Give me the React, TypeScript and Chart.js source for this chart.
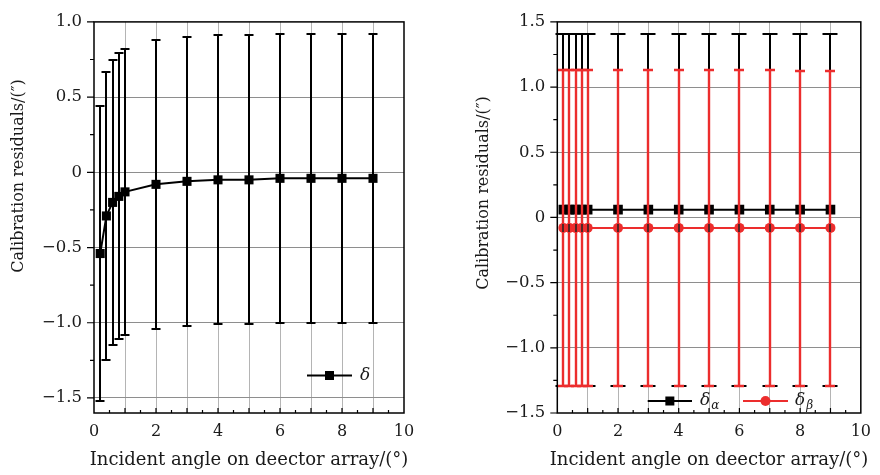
import React, { useEffect, useRef } from 'react';
import { Chart, registerables } from 'chart.js';

Chart.register(...registerables);

// ---------- data ----------
const angles = [0.2, 0.4, 0.6, 0.8, 1, 2, 3, 4, 5, 6, 7, 8, 9];

const delta = [-0.54, -0.29, -0.2, -0.16, -0.13, -0.08, -0.06, -0.05, -0.05, -0.04, -0.04, -0.04, -0.04];
const deltaUpper = [0.44, 0.67, 0.75, 0.79, 0.82, 0.88, 0.9, 0.91, 0.91, 0.92, 0.92, 0.92, 0.92];
const deltaLower = [-1.52, -1.25, -1.15, -1.11, -1.08, -1.04, -1.02, -1.01, -1.01, -1.0, -1.0, -1.0, -1.0];

const deltaAlpha = [0.06, 0.06, 0.06, 0.06, 0.06, 0.06, 0.06, 0.06, 0.06, 0.06, 0.06, 0.06, 0.06];
const alphaUpper = [1.41, 1.41, 1.41, 1.41, 1.41, 1.41, 1.41, 1.41, 1.41, 1.41, 1.41, 1.41, 1.41];
const alphaLower = [-1.29, -1.29, -1.29, -1.29, -1.29, -1.29, -1.29, -1.29, -1.29, -1.29, -1.29, -1.29, -1.29];

const deltaBeta = [-0.08, -0.08, -0.08, -0.08, -0.08, -0.08, -0.08, -0.08, -0.08, -0.08, -0.08, -0.08, -0.08];
const betaUpper = [1.13, 1.13, 1.13, 1.13, 1.13, 1.13, 1.13, 1.13, 1.13, 1.13, 1.13, 1.12, 1.12];
const betaLower = [-1.29, -1.29, -1.29, -1.29, -1.29, -1.29, -1.29, -1.29, -1.29, -1.29, -1.29, -1.29, -1.29];

const xTickValues = [0, 1, 2, 3, 4, 5, 6, 7, 8, 9, 10];
const leftYTicks = [-1.5, -1.0, -0.5, 0, 0.5, 1.0];
const rightYTicks = [-1.5, -1.0, -0.5, 0, 0.5, 1.0, 1.5];

const xTitle = 'Incident angle on deector array/(°)';
const yTitle = 'Calibration residuals/(″)';

const RED = '#ec2d2d';
const BLACK = '#000000';
const FONT = "'DejaVu Serif', serif";

// ---------- helpers ----------
const fmtY = (v: number) => (Math.abs(v) < 1e-9 ? '0' : (v < 0 ? '\u2212' : '') + Math.abs(v).toFixed(1));

type ErrSpec = { lows: number[]; highs: number[]; color: string; cap: number; width: number };
type LegendItem = { x1: number; x2: number; y: number; color: string; style: 'rect' | 'circle'; size: number; sub?: string };

function drawErrorBars(chart: any, xs: number[], e: ErrSpec) {
  const { ctx, scales } = chart;
  const xs_ = scales.x;
  const ys_ = scales.y;
  ctx.save();
  ctx.strokeStyle = e.color;
  ctx.lineWidth = e.width;
  for (let i = 0; i < xs.length; i++) {
    const px = Math.round(xs_.getPixelForValue(xs[i]));
    const hi = Math.round(ys_.getPixelForValue(e.highs[i]));
    const lo = Math.round(ys_.getPixelForValue(e.lows[i]));
    ctx.beginPath();
    ctx.moveTo(px, hi);
    ctx.lineTo(px, lo);
    ctx.moveTo(px - e.cap, hi);
    ctx.lineTo(px + e.cap, hi);
    ctx.moveTo(px - e.cap, lo);
    ctx.lineTo(px + e.cap, lo);
    ctx.stroke();
  }
  ctx.restore();
}

function makeConfig(o: {
  datasets: any[];
  errors: (ErrSpec | null)[];
  yMin: number;
  yMax: number;
  yTicks: number[];
  yWidth: number;
  padRight: number;
  legend: LegendItem[];
  legendTextX: number[];
  yTitleX: number;
  yTitleY: number;
  throughLines?: { ys: number[]; half: number };
}) {
  const customPlugin = {
    id: 'custom',
    beforeDatasetDraw(chart: any, args: any) {
      const e = o.errors[args.index];
      if (e) drawErrorBars(chart, angles, e);
    },
    afterDatasetsDraw(chart: any) {
      if (!o.throughLines) return;
      const { ctx, scales } = chart;
      ctx.save();
      ctx.strokeStyle = '#222';
      ctx.lineWidth = 1.5;
      for (let i = 0; i < angles.length; i++) {
        const px = Math.round(scales.x.getPixelForValue(angles[i]));
        const py = scales.y.getPixelForValue(o.throughLines.ys[i]);
        ctx.beginPath();
        ctx.moveTo(px, py - o.throughLines.half);
        ctx.lineTo(px, py + o.throughLines.half);
        ctx.stroke();
      }
      ctx.restore();
    },
    afterDraw(chart: any) {
      const { ctx, chartArea: a, scales } = chart;
      ctx.save();
      // frame
      ctx.strokeStyle = '#000';
      ctx.lineWidth = 1.5;
      ctx.strokeRect(a.left, a.top, a.right - a.left, a.bottom - a.top);
      // x ticks (inward)
      ctx.lineWidth = 1.2;
      ctx.beginPath();
      for (let k = 1; k < 20; k++) {
        const px = scales.x.getPixelForValue(k * 0.5);
        const len = k % 2 === 0 ? 5 : 3;
        ctx.moveTo(px, a.bottom);
        ctx.lineTo(px, a.bottom - len);
      }
      // y ticks (outward)
      const k0 = Math.ceil(o.yMin / 0.25 - 1e-9);
      const k1 = Math.floor(o.yMax / 0.25 + 1e-9);
      for (let k = k0; k <= k1; k++) {
        const py = scales.y.getPixelForValue(k * 0.25);
        const len = k % 2 === 0 ? 7 : 4;
        ctx.moveTo(a.left, py);
        ctx.lineTo(a.left - len, py);
      }
      ctx.stroke();

      // titles
      ctx.fillStyle = '#1a1a1a';
      ctx.textAlign = 'center';
      ctx.textBaseline = 'middle';
      ctx.font = `18px ${FONT}`;
      ctx.fillText(xTitle, (a.left + a.right) / 2, 460);
      ctx.font = `16px ${FONT}`;
      ctx.save();
      ctx.translate(o.yTitleX, o.yTitleY);
      ctx.rotate(-Math.PI / 2);
      ctx.fillText(yTitle, 0, 0);
      ctx.restore();

      // legend
      o.legend.forEach((it, i) => {
        ctx.strokeStyle = it.color;
        ctx.fillStyle = it.color;
        ctx.lineWidth = 2;
        ctx.beginPath();
        ctx.moveTo(it.x1, it.y);
        ctx.lineTo(it.x2, it.y);
        ctx.stroke();
        const cx = (it.x1 + it.x2) / 2;
        if (it.style === 'rect') {
          ctx.fillRect(cx - it.size / 2, it.y - it.size / 2, it.size, it.size);
        } else {
          ctx.beginPath();
          ctx.arc(cx, it.y, it.size / 2, 0, Math.PI * 2);
          ctx.fill();
        }
        ctx.fillStyle = '#1a1a1a';
        ctx.textAlign = 'left';
        ctx.textBaseline = 'middle';
        ctx.font = `italic 17px ${FONT}`;
        const tx = o.legendTextX[i];
        ctx.fillText('δ', tx, it.y);
        if (it.sub) {
          const w = ctx.measureText('δ').width;
          ctx.font = `italic 12px ${FONT}`;
          ctx.fillText(it.sub, tx + w + 1, it.y + 5);
        }
      });
      ctx.restore();
    },
  };

  return {
    type: 'line' as const,
    data: { datasets: o.datasets },
    options: {
      animation: false as const,
      responsive: false,
      devicePixelRatio: 1,
      layout: { padding: { left: 0, right: o.padRight, top: 13, bottom: 0 } },
      plugins: { legend: { display: false }, tooltip: { enabled: false } },
      scales: {
        x: {
          type: 'linear' as const,
          min: 0,
          max: 10,
          afterBuildTicks: (s: any) => {
            s.ticks = xTickValues.map((v) => ({ value: v }));
          },
          afterFit: (s: any) => {
            s.height = 62;
          },
          border: { display: false },
          grid: {
            drawTicks: false,
            lineWidth: 1,
            color: (c: any) => (c.tick && (c.tick.value === 0 || c.tick.value === 10) ? 'rgba(0,0,0,0)' : '#b4b4b4'),
          },
          ticks: {
            autoSkip: false,
            maxRotation: 0,
            padding: 9,
            color: '#1a1a1a',
            font: { family: FONT, size: 16 },
            callback: (v: any) => (Number(v) % 2 === 0 ? String(v) : ''),
          },
        },
        y: {
          type: 'linear' as const,
          min: o.yMin,
          max: o.yMax,
          afterBuildTicks: (s: any) => {
            s.ticks = o.yTicks.map((v) => ({ value: v }));
          },
          afterFit: (s: any) => {
            s.width = o.yWidth;
          },
          border: { display: false },
          grid: {
            drawTicks: false,
            lineWidth: 1,
            color: (c: any) =>
              c.tick && (Math.abs(c.tick.value - o.yMin) < 1e-9 || Math.abs(c.tick.value - o.yMax) < 1e-9)
                ? 'rgba(0,0,0,0)'
                : '#8e8e8e',
          },
          ticks: {
            padding: 12,
            color: '#1a1a1a',
            font: { family: FONT, size: 16.5 },
            callback: (v: any) => fmtY(Number(v)),
          },
        },
      },
    },
    plugins: [customPlugin],
  };
}

const pts = (ys: number[]) => angles.map((x, i) => ({ x, y: ys[i] }));

function leftConfig() {
  return makeConfig({
    datasets: [
      {
        data: pts(delta),
        borderColor: BLACK,
        backgroundColor: BLACK,
        borderWidth: 2,
        pointStyle: 'rect',
        pointRadius: 6.4,
        pointBorderWidth: 0,
        tension: 0,
      },
    ],
    errors: [{ lows: deltaLower, highs: deltaUpper, color: BLACK, cap: 4.5, width: 2 }],
    yMin: -1.6,
    yMax: 1.0,
    yTicks: leftYTicks,
    yWidth: 94,
    padRight: 36,
    legend: [{ x1: 307, x2: 352, y: 375.5, color: BLACK, style: 'rect', size: 9 }],
    legendTextX: [360],
    yTitleX: 19,
    yTitleY: 176,
  });
}

function rightConfig() {
  return makeConfig({
    datasets: [
      {
        data: pts(deltaAlpha),
        borderColor: BLACK,
        backgroundColor: BLACK,
        borderWidth: 2,
        pointStyle: 'rect',
        pointRadius: 6.8,
        pointBorderWidth: 0,
        tension: 0,
        order: 2,
      },
      {
        data: pts(deltaBeta),
        borderColor: RED,
        backgroundColor: RED,
        borderWidth: 2,
        pointStyle: 'circle',
        pointRadius: 5,
        pointBorderWidth: 0,
        tension: 0,
        order: 1,
      },
    ],
    errors: [
      { lows: alphaLower, highs: alphaUpper, color: BLACK, cap: 7.5, width: 2 },
      { lows: betaLower, highs: betaUpper, color: RED, cap: 5, width: 2.4 },
    ],
    yMin: -1.5,
    yMax: 1.5,
    yTicks: rightYTicks,
    yWidth: 117.3,
    padRight: 13.3,
    legend: [
      { x1: 207.7, x2: 252, y: 401, color: BLACK, style: 'rect', size: 9, sub: 'α' },
      { x1: 303, x2: 348, y: 401, color: RED, style: 'circle', size: 10, sub: 'β' },
    ],
    legendTextX: [260, 355],
    yTitleX: 44,
    yTitleY: 193,
    throughLines: { ys: deltaBeta, half: 4 },
  });
}

function Panel({ left, build }: { left: number; build: () => any }) {
  const ref = useRef<HTMLCanvasElement>(null);
  useEffect(() => {
    if (!ref.current) return;
    const chart = new Chart(ref.current, build());
    return () => chart.destroy();
  }, [build]);
  return (
    <div style={{ position: 'absolute', left, top: 0, width: 440, height: 475 }}>
      <canvas ref={ref} width={440} height={475} style={{ display: 'block', width: 440, height: 475 }} />
    </div>
  );
}

export default function App() {
  return (
    <div style={{ position: 'fixed', left: 0, top: 0, width: 880, height: 475, background: '#fff', overflow: 'hidden' }}>
      <Panel left={0} build={leftConfig} />
      <Panel left={440} build={rightConfig} />
    </div>
  );
}
